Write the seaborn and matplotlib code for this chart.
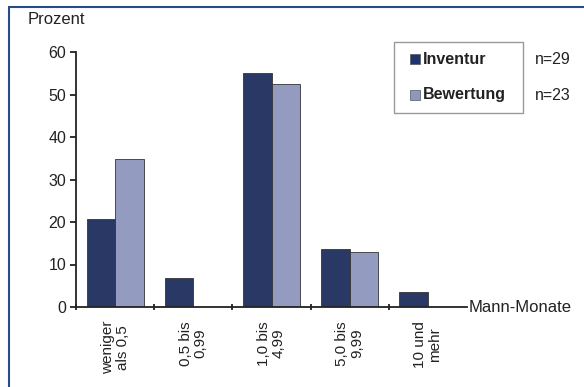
import matplotlib
matplotlib.use("Agg")
import matplotlib.pyplot as plt
import seaborn as sns
import pandas as pd
from matplotlib.lines import Line2D
from matplotlib.patches import Rectangle

categories = ["weniger\nals 0,5", "0,5 bis\n0,99", "1,0 bis\n4,99", "5,0 bis\n9,99", "10 und\nmehr"]
inventur = [20.7, 6.8, 55.0, 13.7, 3.6]
bewertung = [34.9, 0.0, 52.4, 13.0, 0.0]
series = ["Inventur", "Bewertung"]
n_labels = ["n=29", "n=23"]
yticks = [0, 10, 20, 30, 40, 50, 60]

df = pd.DataFrame({
    "cat": categories * 2,
    "val": inventur + bewertung,
    "series": [series[0]] * 5 + [series[1]] * 5,
})

sns.set_style("white")
plt.rcParams["font.family"] = ["Liberation Sans", "DejaVu Sans"]

colors = {"Inventur": "#1f336f", "Bewertung": "#8d96c8"}

fig = plt.figure(figsize=(5.84, 3.87), dpi=100)
fig.patch.set_facecolor("white")
ax = fig.add_axes([76 / 584, 1 - 307 / 387, (467 - 76) / 584, (307 - 52) / 387])

sns.barplot(data=df, x="cat", y="val", hue="series", palette=colors, ax=ax,
            width=0.73, edgecolor="#333333", linewidth=0.6, legend=False)

ax.set_xlim(-0.5, 4.5)
ax.set_ylim(0, 60)
ax.set_yticks(yticks)
ax.set_yticklabels([str(t) for t in yticks], fontsize=11.5, color="#222222")
ax.set_xticks(range(5))
ax.set_xticklabels(categories, rotation=90, fontsize=11, color="#222222",
                   multialignment="center", va="top", ha="center", linespacing=1.1)
ax.set_xticks([-0.5, 0.5, 1.5, 2.5, 3.5], minor=True)
ax.tick_params(axis="x", which="major", length=0, pad=10, bottom=True)
ax.tick_params(axis="x", which="minor", length=4, width=1.3, direction="inout",
               color="#222222", bottom=True)
ax.tick_params(axis="y", length=4, width=1.3, direction="out", color="#222222", pad=3, left=True)
ax.set_xlabel("")
ax.set_ylabel("")
for s in ["top", "right"]:
    ax.spines[s].set_visible(False)
for s in ["left", "bottom"]:
    ax.spines[s].set_color("#222222")
    ax.spines[s].set_linewidth(1.3)

fig.text(28 / 584, 1 - 20 / 387, "Prozent", fontsize=12, color="#222222", va="center", ha="left")
fig.text(469 / 584, 1 - 307 / 387, "Mann-Monate", fontsize=12, color="#222222", va="center", ha="left")

# legend box
fig.patches.append(Rectangle((394 / 584, 1 - 113 / 387), (523 - 394) / 584, (113 - 42) / 387,
                             transform=fig.transFigure, fill=False, edgecolor="#999999", linewidth=1))
for i, (name, nl, ypx) in enumerate(zip(series, n_labels, [59, 95])):
    fig.patches.append(Rectangle((410 / 584, 1 - (ypx + 5) / 387), 10 / 584, 10 / 387,
                                 transform=fig.transFigure, facecolor=colors[name],
                                 edgecolor="#555555", linewidth=0.5))
    fig.text(423 / 584, 1 - ypx / 387, name, fontsize=11.5, fontweight="bold",
             color="#222222", va="center", ha="left")
    fig.text(535 / 584, 1 - ypx / 387, nl, fontsize=11.5, color="#222222", va="center", ha="left")

# frame
fig.add_artist(Line2D([9 / 584, 9 / 584], [0, 1 - 7 / 387], transform=fig.transFigure,
                      color="#2b4a8c", linewidth=1.5))
fig.add_artist(Line2D([9 / 584, 1], [1 - 7 / 387, 1 - 7 / 387], transform=fig.transFigure,
                      color="#2b4a8c", linewidth=1.5))

fig.savefig("out.png", dpi=100, facecolor="white")
